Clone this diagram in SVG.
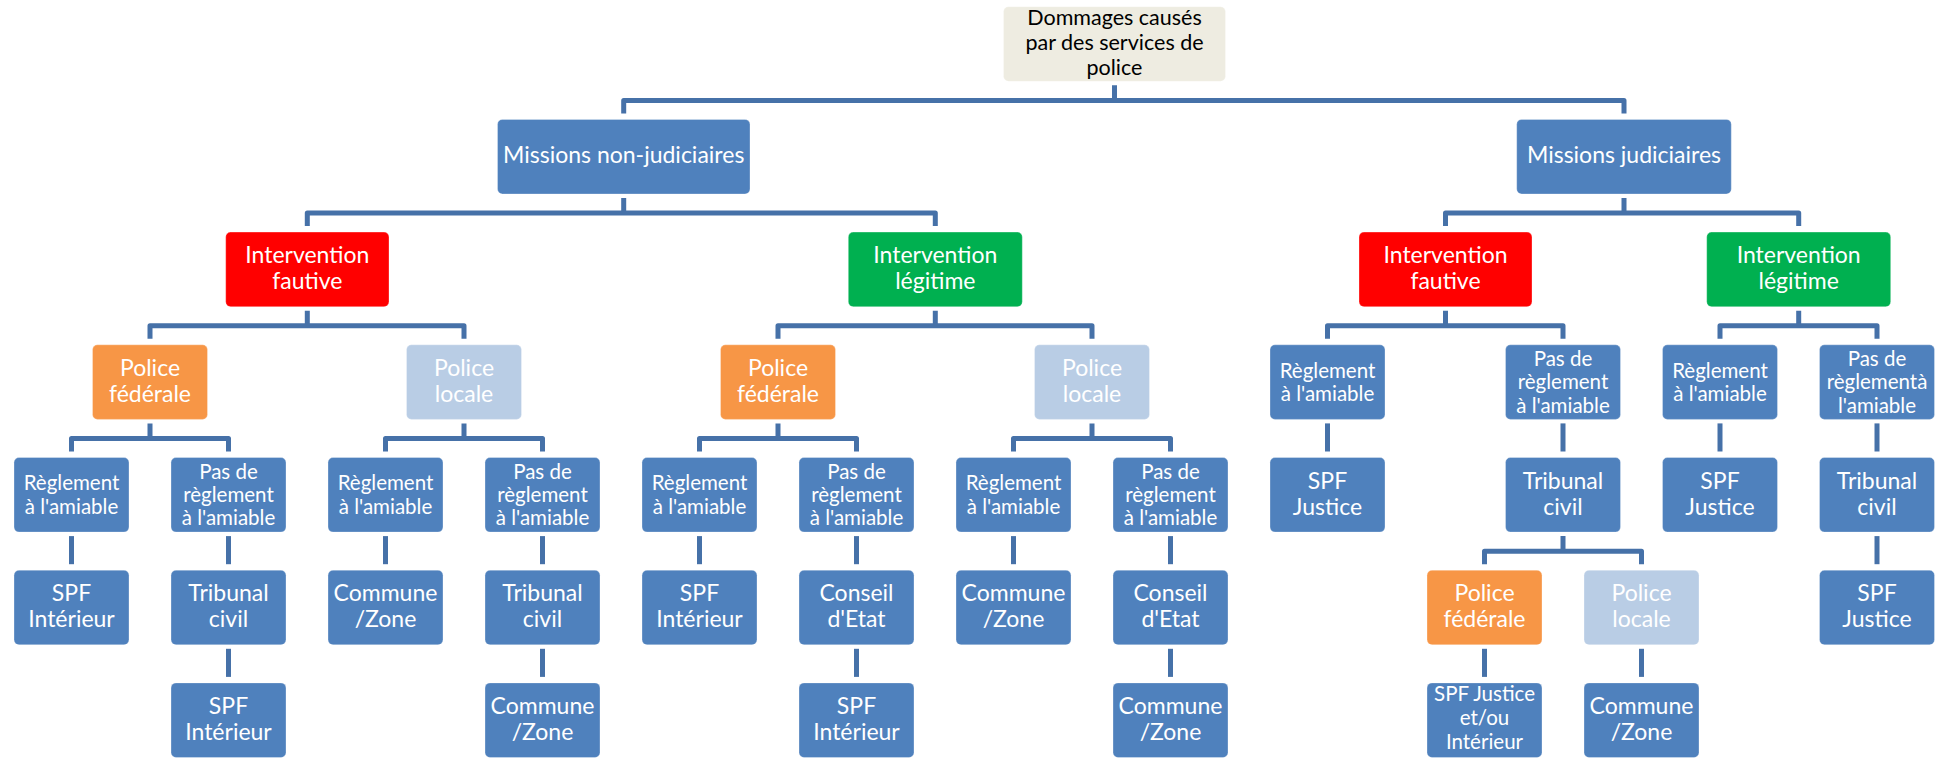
<svg xmlns="http://www.w3.org/2000/svg" width="1944" height="758" viewBox="0 0 1944 758">
<style>
rect{rx:5px;ry:5px;stroke:#ffffff;stroke-opacity:0.3;stroke-width:1}
.b{fill:#4F81BD}.r{fill:#FF0000}.g{fill:#00B050}.o{fill:#F79646}.l{fill:#B9CDE5}.k{fill:#EEECE1}
text{font-family:Lato,"Liberation Sans",sans-serif;fill:#ffffff;text-anchor:middle;font-size:23px}
text.s{font-size:20.5px}
text.d{fill:#000000;font-size:21.5px}
#conn path{fill:none;stroke:#4671A8;stroke-width:5;stroke-linejoin:round}
</style>
<g id="conn">
<path d="M623.7 113.4V100.4H1624V113.4M1114.5 85.3V100.4"/>
<path d="M307.3 226.1V213.1H935.3V226.1M623.7 198V213.1"/>
<path d="M1445.5 226.1V213.1H1798.7V226.1M1624 198V213.1"/>
<path d="M150 338.8V325.8H464V338.8M307.3 310.7V325.8"/>
<path d="M778 338.8V325.8H1092V338.8M935.3 310.7V325.8"/>
<path d="M1327.5 338.8V325.8H1563V338.8M1445.5 310.7V325.8"/>
<path d="M1720 338.8V325.8H1877V338.8M1798.7 310.7V325.8"/>
<path d="M71.5 451.5V438.5H228.5V451.5M150 423.4V438.5"/>
<path d="M385.5 451.5V438.5H542.5V451.5M464 423.4V438.5"/>
<path d="M699.5 451.5V438.5H856.5V451.5M778 423.4V438.5"/>
<path d="M1013.5 451.5V438.5H1170.5V451.5M1092 423.4V438.5"/>
<path d="M1327.5 423.4V451.5"/>
<path d="M1563 423.4V451.5"/>
<path d="M1720 423.4V451.5"/>
<path d="M1877 423.4V451.5"/>
<path d="M71.5 536.1V564.2"/>
<path d="M228.5 536.1V564.2"/>
<path d="M385.5 536.1V564.2"/>
<path d="M542.5 536.1V564.2"/>
<path d="M699.5 536.1V564.2"/>
<path d="M856.5 536.1V564.2"/>
<path d="M1013.5 536.1V564.2"/>
<path d="M1170.5 536.1V564.2"/>
<path d="M1484.5 564.2V551.2H1641.5V564.2M1563 536.1V551.2"/>
<path d="M1877 536.1V564.2"/>
<path d="M228.5 648.8V676.9"/>
<path d="M542.5 648.8V676.9"/>
<path d="M856.5 648.8V676.9"/>
<path d="M1170.5 648.8V676.9"/>
<path d="M1484.5 648.8V676.9"/>
<path d="M1641.5 648.8V676.9"/>
</g>
<g id="root"><rect class="k" x="1003.5" y="6.7" width="222" height="74.6"/><text class="d" x="1114.5" y="24.5">Dommages causés</text><text class="d" x="1114.5" y="50">par des services de</text><text class="d" x="1114.5" y="75.2">police</text></g>
<g id="mnj"><rect class="b" x="497.5" y="119.4" width="252.5" height="74.6"/><text x="623.7" y="163.4">Missions non-judiciaires</text></g>
<g id="mj"><rect class="b" x="1516.7" y="119.4" width="214.6" height="74.6"/><text x="1624" y="163.4">Missions judiciaires</text></g>
<g id="ifl"><rect class="r" x="225.7" y="232.1" width="163.3" height="74.6"/><text x="307.3" y="263.1">Intervention</text><text x="307.3" y="289.1">fautive</text></g>
<g id="ill"><rect class="g" x="848.3" y="232.1" width="174" height="74.6"/><text x="935.3" y="263.1">Intervention</text><text x="935.3" y="289.1">légitime</text></g>
<g id="ifr"><rect class="r" x="1359" y="232.1" width="173" height="74.6"/><text x="1445.5" y="263.1">Intervention</text><text x="1445.5" y="289.1">fautive</text></g>
<g id="ilr"><rect class="g" x="1706.7" y="232.1" width="184" height="74.6"/><text x="1798.7" y="263.1">Intervention</text><text x="1798.7" y="289.1">légitime</text></g>
<g id="pf1"><rect class="o" x="92.5" y="344.8" width="115" height="74.6"/><text x="150" y="375.8">Police</text><text x="150" y="401.8">fédérale</text></g>
<g id="pl1"><rect class="l" x="406.5" y="344.8" width="115" height="74.6"/><text x="464" y="375.8">Police</text><text x="464" y="401.8">locale</text></g>
<g id="pf2"><rect class="o" x="720.5" y="344.8" width="115" height="74.6"/><text x="778" y="375.8">Police</text><text x="778" y="401.8">fédérale</text></g>
<g id="pl2"><rect class="l" x="1034.5" y="344.8" width="115" height="74.6"/><text x="1092" y="375.8">Police</text><text x="1092" y="401.8">locale</text></g>
<g id="ra3"><rect class="b" x="1270" y="344.8" width="115" height="74.6"/><text class="s" x="1327.5" y="377.5">Règlement</text><text class="s" x="1327.5" y="400.8">à l'amiable</text></g>
<g id="pr3"><rect class="b" x="1505.5" y="344.8" width="115" height="74.6"/><text class="s" x="1563" y="365.8">Pas de</text><text class="s" x="1563" y="389.1">règlement</text><text class="s" x="1563" y="412.5">à l'amiable</text></g>
<g id="ra4"><rect class="b" x="1662.5" y="344.8" width="115" height="74.6"/><text class="s" x="1720" y="377.5">Règlement</text><text class="s" x="1720" y="400.8">à l'amiable</text></g>
<g id="pr4"><rect class="b" x="1819.5" y="344.8" width="115" height="74.6"/><text class="s" x="1877" y="365.8">Pas de</text><text class="s" x="1877" y="389.1">règlementà</text><text class="s" x="1877" y="412.5">l'amiable</text></g>
<g id="ra1a"><rect class="b" x="14" y="457.5" width="115" height="74.6"/><text class="s" x="71.5" y="490.2">Règlement</text><text class="s" x="71.5" y="513.5">à l'amiable</text></g>
<g id="pr1a"><rect class="b" x="171" y="457.5" width="115" height="74.6"/><text class="s" x="228.5" y="478.5">Pas de</text><text class="s" x="228.5" y="501.8">règlement</text><text class="s" x="228.5" y="525.2">à l'amiable</text></g>
<g id="ra1b"><rect class="b" x="328" y="457.5" width="115" height="74.6"/><text class="s" x="385.5" y="490.2">Règlement</text><text class="s" x="385.5" y="513.5">à l'amiable</text></g>
<g id="pr1b"><rect class="b" x="485" y="457.5" width="115" height="74.6"/><text class="s" x="542.5" y="478.5">Pas de</text><text class="s" x="542.5" y="501.8">règlement</text><text class="s" x="542.5" y="525.2">à l'amiable</text></g>
<g id="ra2a"><rect class="b" x="642" y="457.5" width="115" height="74.6"/><text class="s" x="699.5" y="490.2">Règlement</text><text class="s" x="699.5" y="513.5">à l'amiable</text></g>
<g id="pr2a"><rect class="b" x="799" y="457.5" width="115" height="74.6"/><text class="s" x="856.5" y="478.5">Pas de</text><text class="s" x="856.5" y="501.8">règlement</text><text class="s" x="856.5" y="525.2">à l'amiable</text></g>
<g id="ra2b"><rect class="b" x="956" y="457.5" width="115" height="74.6"/><text class="s" x="1013.5" y="490.2">Règlement</text><text class="s" x="1013.5" y="513.5">à l'amiable</text></g>
<g id="pr2b"><rect class="b" x="1113" y="457.5" width="115" height="74.6"/><text class="s" x="1170.5" y="478.5">Pas de</text><text class="s" x="1170.5" y="501.8">règlement</text><text class="s" x="1170.5" y="525.2">à l'amiable</text></g>
<g id="sj3"><rect class="b" x="1270" y="457.5" width="115" height="74.6"/><text x="1327.5" y="488.5">SPF</text><text x="1327.5" y="514.5">Justice</text></g>
<g id="tc3"><rect class="b" x="1505.5" y="457.5" width="115" height="74.6"/><text x="1563" y="488.5">Tribunal</text><text x="1563" y="514.5">civil</text></g>
<g id="sj4"><rect class="b" x="1662.5" y="457.5" width="115" height="74.6"/><text x="1720" y="488.5">SPF</text><text x="1720" y="514.5">Justice</text></g>
<g id="tc4"><rect class="b" x="1819.5" y="457.5" width="115" height="74.6"/><text x="1877" y="488.5">Tribunal</text><text x="1877" y="514.5">civil</text></g>
<g id="si1a"><rect class="b" x="14" y="570.2" width="115" height="74.6"/><text x="71.5" y="601.2">SPF</text><text x="71.5" y="627.2">Intérieur</text></g>
<g id="tc1a"><rect class="b" x="171" y="570.2" width="115" height="74.6"/><text x="228.5" y="601.2">Tribunal</text><text x="228.5" y="627.2">civil</text></g>
<g id="cz1b"><rect class="b" x="328" y="570.2" width="115" height="74.6"/><text x="385.5" y="601.2">Commune</text><text x="385.5" y="627.2">/Zone</text></g>
<g id="tc1b"><rect class="b" x="485" y="570.2" width="115" height="74.6"/><text x="542.5" y="601.2">Tribunal</text><text x="542.5" y="627.2">civil</text></g>
<g id="si2a"><rect class="b" x="642" y="570.2" width="115" height="74.6"/><text x="699.5" y="601.2">SPF</text><text x="699.5" y="627.2">Intérieur</text></g>
<g id="ce2a"><rect class="b" x="799" y="570.2" width="115" height="74.6"/><text x="856.5" y="601.2">Conseil</text><text x="856.5" y="627.2">d'Etat</text></g>
<g id="cz2b"><rect class="b" x="956" y="570.2" width="115" height="74.6"/><text x="1013.5" y="601.2">Commune</text><text x="1013.5" y="627.2">/Zone</text></g>
<g id="ce2b"><rect class="b" x="1113" y="570.2" width="115" height="74.6"/><text x="1170.5" y="601.2">Conseil</text><text x="1170.5" y="627.2">d'Etat</text></g>
<g id="pf3"><rect class="o" x="1427" y="570.2" width="115" height="74.6"/><text x="1484.5" y="601.2">Police</text><text x="1484.5" y="627.2">fédérale</text></g>
<g id="pl3"><rect class="l" x="1584" y="570.2" width="115" height="74.6"/><text x="1641.5" y="601.2">Police</text><text x="1641.5" y="627.2">locale</text></g>
<g id="sj5"><rect class="b" x="1819.5" y="570.2" width="115" height="74.6"/><text x="1877" y="601.2">SPF</text><text x="1877" y="627.2">Justice</text></g>
<g id="si1c"><rect class="b" x="171" y="682.9" width="115" height="74.6"/><text x="228.5" y="713.9">SPF</text><text x="228.5" y="739.9">Intérieur</text></g>
<g id="cz1c"><rect class="b" x="485" y="682.9" width="115" height="74.6"/><text x="542.5" y="713.9">Commune</text><text x="542.5" y="739.9">/Zone</text></g>
<g id="si2c"><rect class="b" x="799" y="682.9" width="115" height="74.6"/><text x="856.5" y="713.9">SPF</text><text x="856.5" y="739.9">Intérieur</text></g>
<g id="cz2c"><rect class="b" x="1113" y="682.9" width="115" height="74.6"/><text x="1170.5" y="713.9">Commune</text><text x="1170.5" y="739.9">/Zone</text></g>
<g id="sjei"><rect class="b" x="1427" y="682.9" width="115" height="74.6"/><text class="s" x="1484.5" y="701.3">SPF Justice</text><text class="s" x="1484.5" y="725.1">et/ou</text><text class="s" x="1484.5" y="748.6">Intérieur</text></g>
<g id="cz3"><rect class="b" x="1584" y="682.9" width="115" height="74.6"/><text x="1641.5" y="713.9">Commune</text><text x="1641.5" y="739.9">/Zone</text></g>
</svg>
